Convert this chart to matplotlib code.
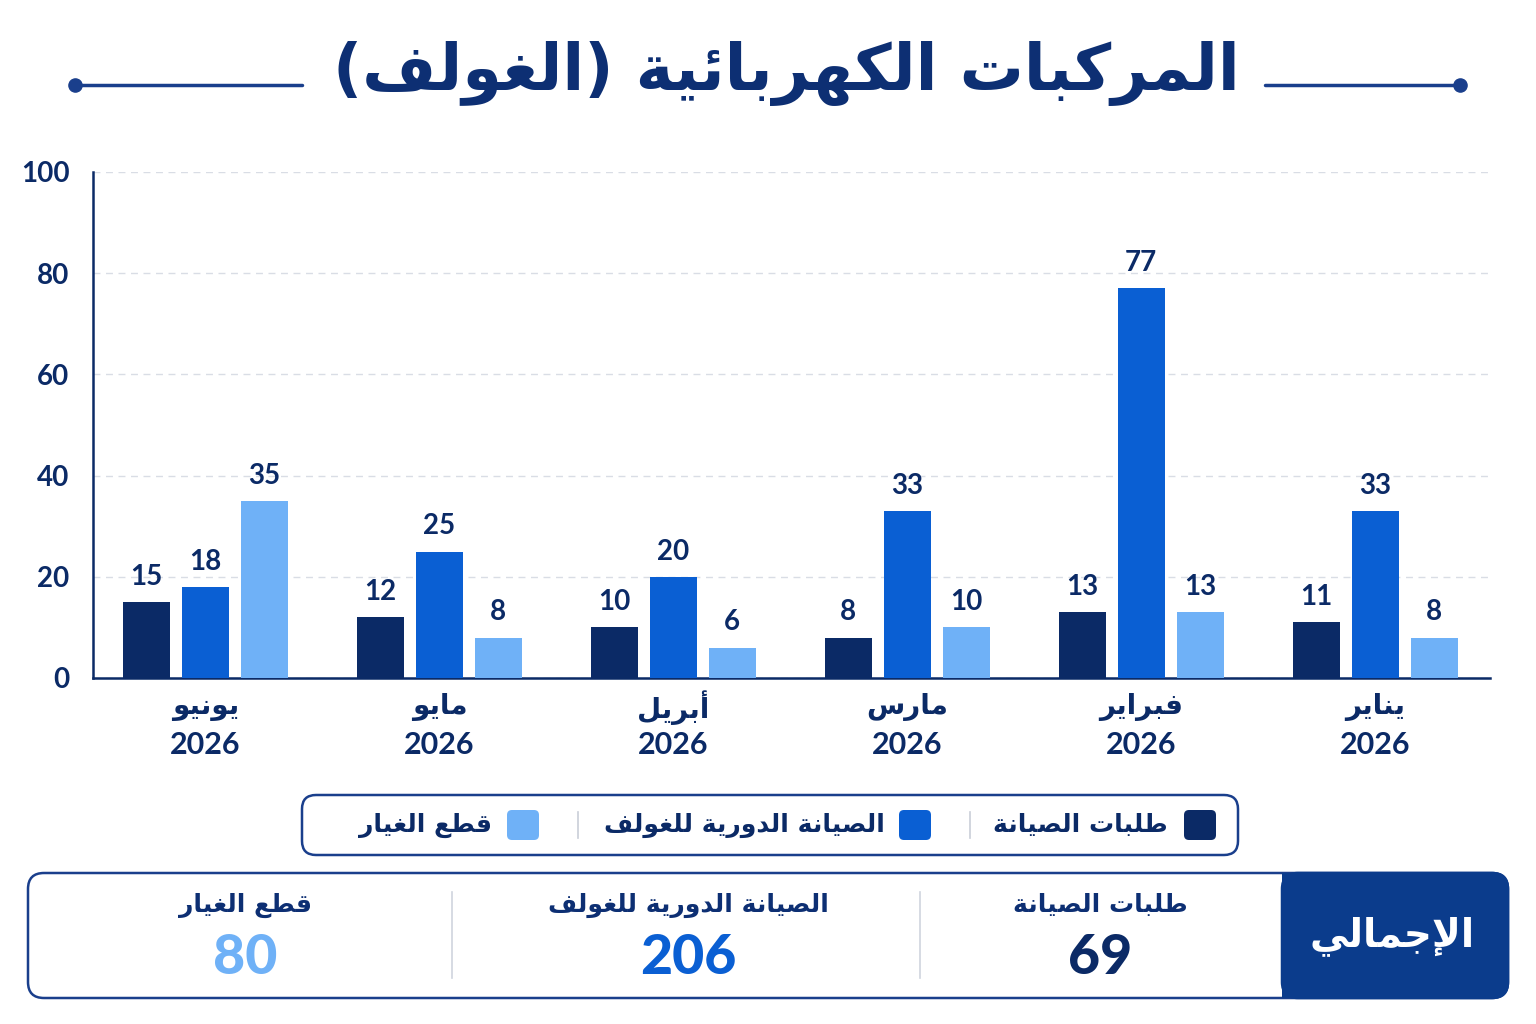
import matplotlib
matplotlib.use("Agg")
import matplotlib.pyplot as plt
from matplotlib.patches import FancyBboxPatch, Rectangle
import numpy as np

# ---------------- Data ----------------
title = "المركبات الكهربائية (الغولف)"
months = ["يونيو", "مايو", "أبريل", "مارس", "فبراير", "يناير"]   # left -> right
years = ["2026", "2026", "2026", "2026", "2026", "2026"]
series_names = ["طلبات الصيانة", "الصيانة الدورية للغولف", "قطع الغيار"]
requests = [15, 12, 10, 8, 13, 11]
periodic = [18, 25, 20, 33, 77, 33]
parts = [35, 8, 6, 10, 13, 8]
yticks = [0, 20, 40, 60, 80, 100]
total_label = "الإجمالي"

DARK = "#0b2a66"
BLUE = "#0a5fd3"
LIGHT = "#6fb1f7"
TITLE_C = "#0d2f73"
BORDER = "#1a3f8c"
HEAD = "#0b3c8c"

# ---------------- Arabic shaping (no external libs) ----------------
FORMS = {
    '\u0621': ('\uFE80', None, None, None),
    '\u0622': ('\uFE81', '\uFE82', None, None),
    '\u0623': ('\uFE83', '\uFE84', None, None),
    '\u0624': ('\uFE85', '\uFE86', None, None),
    '\u0625': ('\uFE87', '\uFE88', None, None),
    '\u0626': ('\uFE89', '\uFE8A', '\uFE8B', '\uFE8C'),
    '\u0627': ('\uFE8D', '\uFE8E', None, None),
    '\u0628': ('\uFE8F', '\uFE90', '\uFE91', '\uFE92'),
    '\u0629': ('\uFE93', '\uFE94', None, None),
    '\u062A': ('\uFE95', '\uFE96', '\uFE97', '\uFE98'),
    '\u062B': ('\uFE99', '\uFE9A', '\uFE9B', '\uFE9C'),
    '\u062C': ('\uFE9D', '\uFE9E', '\uFE9F', '\uFEA0'),
    '\u062D': ('\uFEA1', '\uFEA2', '\uFEA3', '\uFEA4'),
    '\u062E': ('\uFEA5', '\uFEA6', '\uFEA7', '\uFEA8'),
    '\u062F': ('\uFEA9', '\uFEAA', None, None),
    '\u0630': ('\uFEAB', '\uFEAC', None, None),
    '\u0631': ('\uFEAD', '\uFEAE', None, None),
    '\u0632': ('\uFEAF', '\uFEB0', None, None),
    '\u0633': ('\uFEB1', '\uFEB2', '\uFEB3', '\uFEB4'),
    '\u0634': ('\uFEB5', '\uFEB6', '\uFEB7', '\uFEB8'),
    '\u0635': ('\uFEB9', '\uFEBA', '\uFEBB', '\uFEBC'),
    '\u0636': ('\uFEBD', '\uFEBE', '\uFEBF', '\uFEC0'),
    '\u0637': ('\uFEC1', '\uFEC2', '\uFEC3', '\uFEC4'),
    '\u0638': ('\uFEC5', '\uFEC6', '\uFEC7', '\uFEC8'),
    '\u0639': ('\uFEC9', '\uFECA', '\uFECB', '\uFECC'),
    '\u063A': ('\uFECD', '\uFECE', '\uFECF', '\uFED0'),
    '\u0641': ('\uFED1', '\uFED2', '\uFED3', '\uFED4'),
    '\u0642': ('\uFED5', '\uFED6', '\uFED7', '\uFED8'),
    '\u0643': ('\uFED9', '\uFEDA', '\uFEDB', '\uFEDC'),
    '\u0644': ('\uFEDD', '\uFEDE', '\uFEDF', '\uFEE0'),
    '\u0645': ('\uFEE1', '\uFEE2', '\uFEE3', '\uFEE4'),
    '\u0646': ('\uFEE5', '\uFEE6', '\uFEE7', '\uFEE8'),
    '\u0647': ('\uFEE9', '\uFEEA', '\uFEEB', '\uFEEC'),
    '\u0648': ('\uFEED', '\uFEEE', None, None),
    '\u0649': ('\uFEEF', '\uFEF0', None, None),
    '\u064A': ('\uFEF1', '\uFEF2', '\uFEF3', '\uFEF4'),
}
LAMALEF = {'\u0622': ('\uFEF5', '\uFEF6'), '\u0623': ('\uFEF7', '\uFEF8'),
           '\u0625': ('\uFEF9', '\uFEFA'), '\u0627': ('\uFEFB', '\uFEFC')}


def joins_next(c):
    return c in FORMS and FORMS[c][2] is not None


def joins_prev(c):
    return c in FORMS and FORMS[c][1] is not None


def shape(text):
    out = []
    n = len(text)
    i = 0
    while i < n:
        c = text[i]
        prev = text[i - 1] if i > 0 else ''
        if c not in FORMS:
            out.append(c)
            i += 1
            continue
        jp = joins_next(prev) and joins_prev(c)
        if c == '\u0644' and i + 1 < n and text[i + 1] in LAMALEF:
            iso, fin = LAMALEF[text[i + 1]]
            out.append(fin if jp else iso)
            i += 2
            continue
        nxt = text[i + 1] if i + 1 < n else ''
        jn = joins_next(c) and joins_prev(nxt)
        iso, fin, ini, med = FORMS[c]
        if jp and jn:
            out.append(med)
        elif jp:
            out.append(fin)
        elif jn:
            out.append(ini)
        else:
            out.append(iso)
        i += 1
    vis = ''.join(reversed(out))
    swap = {'(': ')', ')': '('}
    return ''.join(swap.get(ch, ch) for ch in vis)


AR = "DejaVu Sans"
NUM = ["Lato", "DejaVu Sans"]

# ---------------- Figure ----------------
W, H = 1536, 1024
fig = plt.figure(figsize=(W / 100, H / 100), dpi=100)
fig.patch.set_facecolor("white")


def fx(px):
    return px / W


def fy(py):
    return 1 - py / H


# Title
fig.text(fx(786), fy(74), shape(title), ha="center", va="center",
         fontsize=46, fontweight="bold", color=TITLE_C, family=AR)
# Title decorations
deco = fig.add_axes([0, 0, 1, 1], zorder=-1)
deco.set_xlim(0, W)
deco.set_ylim(H, 0)
deco.axis("off")
deco.plot([75, 302], [85, 85], color=BORDER, lw=2.5, solid_capstyle="round")
deco.plot([1265, 1460], [85, 85], color=BORDER, lw=2.5, solid_capstyle="round")
deco.scatter([75, 1460], [85, 85], s=90, color=BORDER, zorder=3)

# ---------------- Bar chart ----------------
ax_l, ax_r, ax_t, ax_b = 93, 1490, 172, 678
ax = fig.add_axes([fx(ax_l), fy(ax_b), fx(ax_r - ax_l), (ax_b - ax_t) / H])
x = np.arange(len(months))
width = 0.2
off = 0.252
for vals, col, dx in [(requests, DARK, -off), (periodic, BLUE, 0), (parts, LIGHT, off)]:
    ax.bar(x + dx, vals, width=width, color=col, zorder=3)
    for xi, v in zip(x + dx, vals):
        ax.text(xi, v + 2.4, str(v), ha="center", va="bottom", fontsize=20,
                fontweight="bold", color=DARK, family=NUM)

ax.set_xlim(-0.48, 5.49)
ax.set_ylim(0, 100)
ax.set_yticks(yticks)
ax.set_yticklabels([str(t) for t in yticks], fontsize=20, fontweight="bold",
                   color=DARK, family=NUM)
ax.tick_params(axis="y", length=0, pad=17)
ax.tick_params(axis="x", length=0)
ax.set_xticks(x)
ax.set_xticklabels([""] * len(x))
for xi, m, yr in zip(x, months, years):
    ax.text(xi, -5.8, shape(m), ha="center", va="center", fontsize=20,
            fontweight="bold", color=DARK, family=AR, clip_on=False)
    ax.text(xi, -13.3, yr, ha="center", va="center", fontsize=22,
            fontweight="bold", color=DARK, family=NUM, clip_on=False)
ax.grid(axis="y", color="#d9dde5", linestyle=(0, (5, 4)), lw=1, zorder=0)
for s in ["top", "right"]:
    ax.spines[s].set_visible(False)
ax.spines["left"].set_color(DARK)
ax.spines["bottom"].set_color(DARK)
ax.spines["left"].set_linewidth(1.8)
ax.spines["bottom"].set_linewidth(1.8)
ax.set_facecolor("none")

# ---------------- Legend ----------------
deco.add_patch(FancyBboxPatch((302, 795), 936, 60, boxstyle="round,pad=0,rounding_size=14",
                              fc="white", ec=BORDER, lw=1.8))
leg_items = [(1200, 1168, DARK, series_names[0]),
             (915, 885, BLUE, series_names[1]),
             (523, 492, LIGHT, series_names[2])]
for sq_x, tx, col, name in leg_items:
    deco.add_patch(FancyBboxPatch((sq_x - 16, 810), 32, 30,
                                  boxstyle="round,pad=0,rounding_size=5", fc=col, ec="none"))
    deco.text(tx, 825, shape(name), ha="right", va="center", fontsize=18,
              fontweight="bold", color=DARK, family=AR)
for sx in [970, 578]:
    deco.plot([sx, sx], [812, 838], color="#c9ced8", lw=1.2)

# ---------------- Totals panel ----------------
deco.add_patch(FancyBboxPatch((28, 873), 1480, 125, boxstyle="round,pad=0,rounding_size=16",
                              fc="white", ec=BORDER, lw=1.8))
deco.add_patch(FancyBboxPatch((1282, 873), 226, 125, boxstyle="round,pad=0,rounding_size=16",
                              fc=HEAD, ec=HEAD, lw=1.8))
deco.add_patch(Rectangle((1282, 873), 40, 125, fc=HEAD, ec="none"))
deco.text(1392, 936, shape(total_label), ha="center", va="center", fontsize=28,
          fontweight="bold", color="white", family=AR)
totals = [sum(requests), sum(periodic), sum(parts)]
tot_cols = [DARK, BLUE, LIGHT]
centers = [1100, 688, 245]
for cx, name, val, col in zip(centers, series_names, totals, tot_cols):
    deco.text(cx, 905, shape(name), ha="center", va="center", fontsize=18,
              fontweight="bold", color=TITLE_C, family=AR)
    deco.text(cx, 958, str(val), ha="center", va="center", fontsize=40,
              fontweight="black", color=col, family=NUM)
for sx in [452, 920]:
    deco.plot([sx, sx], [892, 978], color="#cfd4de", lw=1.2)

fig.savefig("out.png", dpi=100, facecolor="white")
